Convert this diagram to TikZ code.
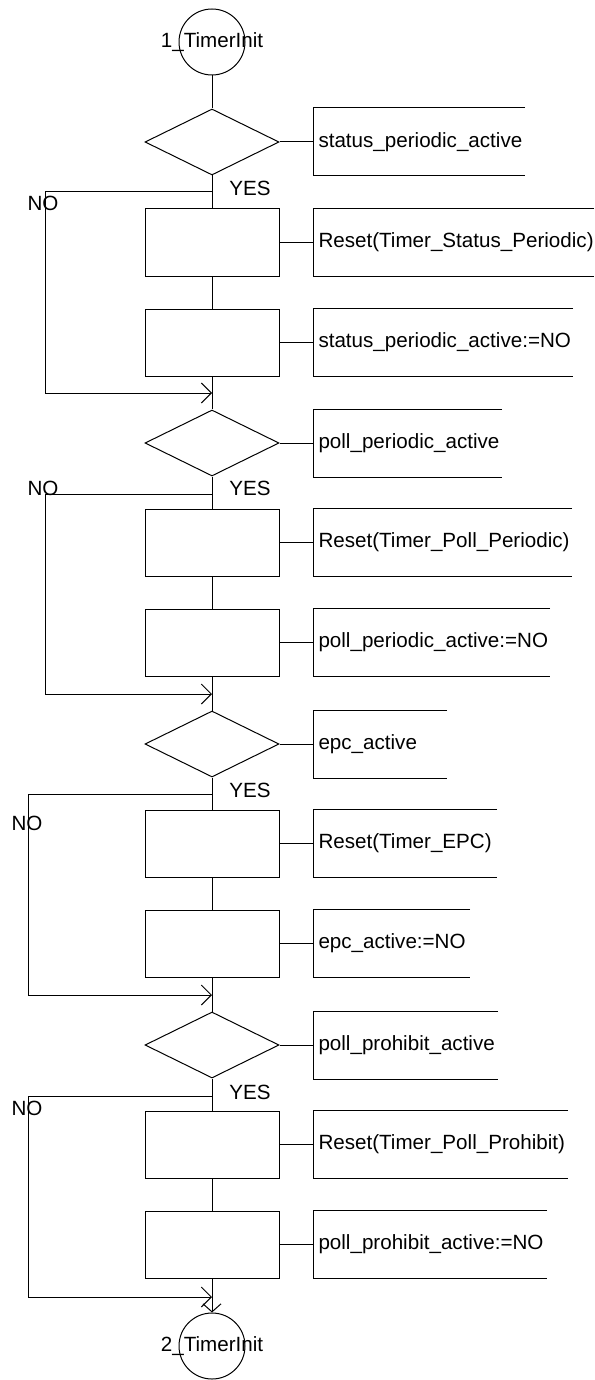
\documentclass[tikz,border=0pt]{standalone}
\usepackage{fontspec}
\setmainfont{Liberation Sans}
\usetikzlibrary{shapes.geometric,arrows.meta}
\newcommand{\notebracket}[2]{\draw ([xshift=#2]#1.north west) -- (#1.north west) -- (#1.south west) -- ([xshift=#2]#1.south west);}

\begin{document}
\begin{tikzpicture}[x=1pt,y=1pt,line width=1pt]
\tikzstyle{every node}+=[inner sep=0pt,font=\fontsize{20.6}{24}\selectfont]
\tikzstyle{term}=[circle,draw,minimum size=66pt]
\tikzstyle{decision}=[diamond,draw,minimum width=134pt,minimum height=66pt]
\tikzstyle{task}=[rectangle,draw,minimum width=134pt,minimum height=67pt]
\tikzstyle{note}=[anchor=west,minimum height=67pt,inner xsep=5pt]
\tikzstyle{barb}=[-{Straight Barb[length=10pt,width=20pt]}]
\useasboundingbox (0,0) rectangle (594,-1380);
\node [term] (init1) at (212,-42) {};
\node (init1txt) at (212,-42) {1\_TimerInit};
% status periodic
\node [decision] (d1) at (212,-142) {};
\node [task] (b1a) at (212,-242.5) {};
\node [task] (b1b) at (212,-342.5) {};
\node [note] (c1a) at (313,-142) {status\_periodic\_active};
\node [note] (c1b) at (313,-242.5) {Reset(Timer\_Status\_Periodic)};
\node [note] (c1c) at (313,-342.5) {status\_periodic\_active:=NO};
\node (yes1) at (250,-188) {YES};
\node (no1) at (43,-203) {NO};
\coordinate (j1) at (212,-192);
\coordinate (k1) at (45,-192);
\coordinate (l1) at (45,-393);
\coordinate (m1) at (212,-393);
% poll periodic
\node [decision] (d2) at (212,-443) {};
\node [task] (b2a) at (212,-542.5) {};
\node [task] (b2b) at (212,-642.5) {};
\node [note] (c2a) at (313,-443) {poll\_periodic\_active};
\node [note] (c2b) at (313,-542.5) {Reset(Timer\_Poll\_Periodic)};
\node [note] (c2c) at (313,-642.5) {poll\_periodic\_active:=NO};
\node (yes2) at (250,-488) {YES};
\node (no2) at (43,-488) {NO};
\coordinate (j2) at (212,-494);
\coordinate (k2) at (45,-494);
\coordinate (l2) at (45,-694);
\coordinate (m2) at (212,-694);
% epc
\node [decision] (d3) at (212,-744) {};
\node [task] (b3a) at (212,-843.5) {};
\node [task] (b3b) at (212,-943.5) {};
\node [note] (c3a) at (313,-744) {epc\_active};
\node [note] (c3b) at (313,-843.5) {Reset(Timer\_EPC)};
\node [note] (c3c) at (313,-943.5) {epc\_active:=NO};
\node (yes3) at (250,-790) {YES};
\node (no3) at (27,-823) {NO};
\coordinate (j3) at (212,-794);
\coordinate (k3) at (28,-794);
\coordinate (l3) at (28,-995);
\coordinate (m3) at (212,-995);
% poll prohibit
\node [decision] (d4) at (212,-1045) {};
\node [task] (b4a) at (212,-1144.5) {};
\node [task] (b4b) at (212,-1244.5) {};
\node [note] (c4a) at (313,-1045) {poll\_prohibit\_active};
\node [note] (c4b) at (313,-1144.5) {Reset(Timer\_Poll\_Prohibit)};
\node [note] (c4c) at (313,-1244.5) {poll\_prohibit\_active:=NO};
\node (yes4) at (250,-1092) {YES};
\node (no4) at (27,-1108) {NO};
\coordinate (j4) at (212,-1096);
\coordinate (k4) at (28,-1096);
\coordinate (l4) at (28,-1297);
\coordinate (m4) at (212,-1297);
\node [term] (init2) at (212,-1346) {};
\node (init2txt) at (212,-1346) {2\_TimerInit};
% main flow
\draw (init1) -- (d1);
\draw (d1) -- (b1a);
\draw (b1a) -- (b1b);
\draw (b1b) -- (d2);
\draw (d2) -- (b2a);
\draw (b2a) -- (b2b);
\draw (b2b) -- (d3);
\draw (d3) -- (b3a);
\draw (b3a) -- (b3b);
\draw (b3b) -- (d4);
\draw (d4) -- (b4a);
\draw (b4a) -- (b4b);
\draw [-{Straight Barb[length=8pt,width=18pt]}] (b4b) -- (init2);
% NO branches
\draw [barb] (j1) -- (k1) -- (l1) -- (m1);
\draw [barb] (j2) -- (k2) -- (l2) -- (m2);
\draw [barb] (j3) -- (k3) -- (l3) -- (m3);
\draw [barb] (j4) -- (k4) -- (l4) -- (m4);
% comments
\draw (d1) -- (c1a);
\draw (b1a) -- (c1b);
\draw (b1b) -- (c1c);
\draw (d2) -- (c2a);
\draw (b2a) -- (c2b);
\draw (b2b) -- (c2c);
\draw (d3) -- (c3a);
\draw (b3a) -- (c3b);
\draw (b3b) -- (c3c);
\draw (d4) -- (c4a);
\draw (b4a) -- (c4b);
\draw (b4b) -- (c4c);
\notebracket{c1a}{212pt}
\notebracket{c1b}{281pt}
\notebracket{c1c}{260pt}
\notebracket{c2a}{189pt}
\notebracket{c2b}{259pt}
\notebracket{c2c}{237pt}
\notebracket{c3a}{134pt}
\notebracket{c3b}{184pt}
\notebracket{c3c}{157pt}
\notebracket{c4a}{185pt}
\notebracket{c4b}{255pt}
\notebracket{c4c}{234pt}
\end{tikzpicture}
\end{document}
